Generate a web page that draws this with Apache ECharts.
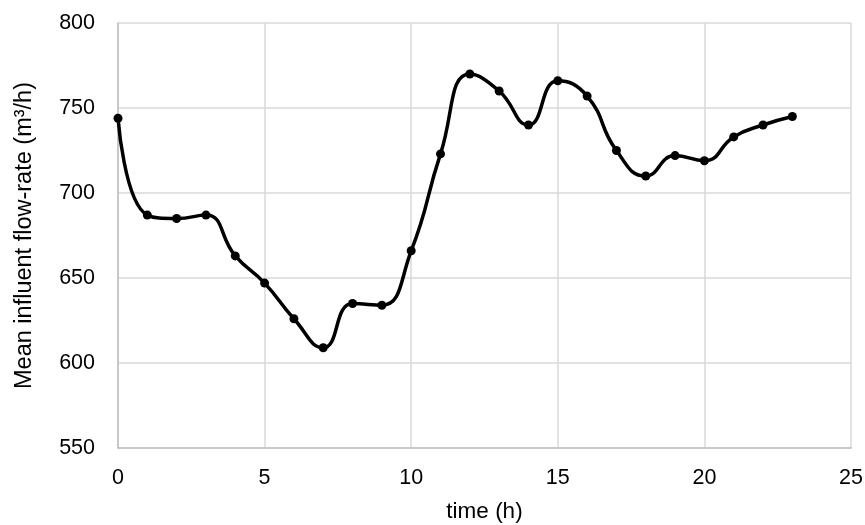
<!DOCTYPE html>
<html><head><meta charset="utf-8">
<script src="https://cdn.jsdelivr.net/npm/echarts@6/dist/echarts.min.js"></script>
<style>html,body{margin:0;padding:0;background:#fff}#c{width:865px;height:525px}</style>
</head><body><div id="c"></div>
<script>
const hours = [0,1,2,3,4,5,6,7,8,9,10,11,12,13,14,15,16,17,18,19,20,21,22,23];
const flowRate = [744,687,685,687,663,647,626,609,635,634,666,723,770,760,740,766,757,725,710,722,719,733,740,745];
const xTitle = 'time (h)';
const yTitle = 'Mean influent flow-rate (m³/h)';

const chart = echarts.init(document.getElementById('c'), null, {renderer:'canvas'});
const font = 'Liberation Sans, Arial, sans-serif';
chart.setOption({
  animation:false,
  backgroundColor:'#fff',
  grid:{left:118, right:14, top:23, bottom:77, containLabel:false, outerBoundsMode:'none'},
  xAxis:{
    type:'value', min:0, max:25, interval:5,
    name:xTitle, nameLocation:'middle', nameGap:52,
    nameTextStyle:{fontFamily:font, fontSize:22.5, color:'#000'},
    axisLine:{show:true, lineStyle:{color:'#bfbfbf', width:1.5}},
    axisTick:{show:false},
    axisLabel:{fontFamily:font, fontSize:21.5, color:'#000', margin:19},
    splitLine:{show:true, lineStyle:{color:'#d9d9d9', width:1.5}}
  },
  yAxis:{
    type:'value', min:550, max:800, interval:50,
    name:yTitle, nameLocation:'middle', nameGap:81, nameRotate:90,
    nameTextStyle:{fontFamily:font, fontSize:23.5, color:'#000'},
    axisLine:{show:true, lineStyle:{color:'#bfbfbf', width:1.5}},
    axisTick:{show:false},
    axisLabel:{fontFamily:font, fontSize:21.5, color:'#000', margin:23},
    splitLine:{show:true, lineStyle:{color:'#d9d9d9', width:1.5}}
  },
  series:[{
    type:'line',
    data:hours.map((h,i)=>[h, flowRate[i]]),
    smooth:0.5,
    symbol:'circle', symbolSize:9,
    lineStyle:{color:'#000', width:3.5},
    itemStyle:{color:'#000'}
  }]
});
</script></body></html>
